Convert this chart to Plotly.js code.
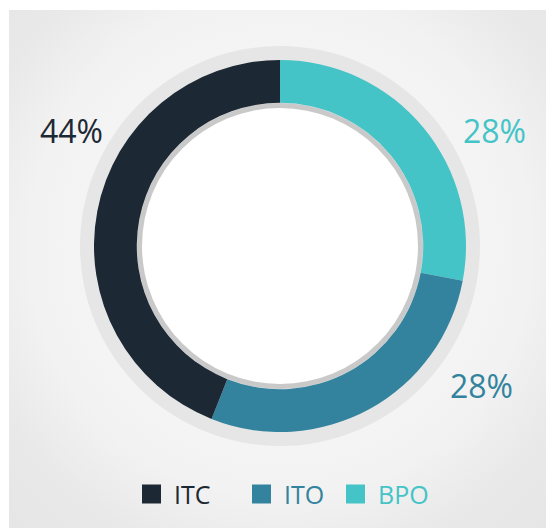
<!DOCTYPE html>
<html>
<head>
<meta charset="utf-8">
<script src="https://cdn.plot.ly/plotly-3.0.1.min.js"></script>
<style>
  html, body { margin: 0; padding: 0; background: #ffffff; }
  #wrap { position: relative; width: 546px; height: 528px; overflow: hidden; background: #ffffff; }
  #bg { position: absolute; left: 9px; top: 10px; right: 0; bottom: 0;
        background: radial-gradient(circle at 271px 236px, #f4f4f4 0px, #f4f4f4 205px, #f2f2f2 250px, #e9e9e9 320px, #e5e5e5 400px); }
  .ring { position: absolute; border-radius: 50%; }
  #outerRing { left: 80px; top: 46px; width: 400px; height: 400px;
        background: radial-gradient(circle, #e6e6e6 0%, #e6e6e6 95%, #dedede 99%, #d6d6d6 100%); }
  #innerRing { left: 137px; top: 103px; width: 286px; height: 286px; background: #c9c9c9; }
  #innerDisk { left: 142px; top: 108px; width: 276px; height: 276px;
        background: radial-gradient(circle, #ffffff 0%, #ffffff 74%, #f4f4f4 88%, #e2e2e2 97%, #d9d9d9 100%); }
  #chart { position: absolute; left: 0; top: 0; width: 546px; height: 528px; }
</style>
</head>
<body>
<div id="wrap">
  <div id="bg"></div>
  <div id="outerRing" class="ring"></div>
  <div id="innerRing" class="ring"></div>
  <div id="innerDisk" class="ring"></div>
  <div id="chart"></div>
</div>
<script>
// Data (slice order clockwise from 12 o'clock)
const categories = ["BPO", "ITO", "ITC"];
const values = [28, 28, 44];
const colors = ["#44c4c7", "#33839e", "#1c2833"];
// Legend order
const legendOrder = ["ITC", "ITO", "BPO"];

// Layout helpers (pixel geometry of the 546x528 canvas)
const W = 546, H = 528;
const cx = 280, cy = 246, R = 186;
const px = x => x / W;
const py = y => 1 - y / H;

// Percent label anchor positions (pixels), per category
const labelPos = { BPO: [494, 131], ITO: [481, 385], ITC: [71, 131] };
// Legend item positions (pixels): square left x, row center y
const legendX = { ITC: 142, ITO: 252, BPO: 346 };
const legendY = 494;
const sq = 19;

const font = "'Open Sans', Roboto, sans-serif";

const trace = {
  type: "pie",
  labels: categories,
  values: values,
  marker: { colors: colors, line: { width: 0 } },
  hole: 0.77,
  sort: false,
  direction: "clockwise",
  rotation: 0,
  textinfo: "none",
  hoverinfo: "label+percent",
  showlegend: false,
  domain: { x: [px(cx - R), px(cx + R)], y: [py(cy + R), py(cy - R)] }
};

const annotations = [];
const shapes = [];
categories.forEach((c, i) => {
  const [lx, ly] = labelPos[c];
  annotations.push({
    xref: "paper", yref: "paper", x: px(lx), y: py(ly),
    xanchor: "center", yanchor: "middle", showarrow: false,
    text: values[i] + "%",
    font: { family: font, size: 32, weight: 400, color: colors[i] }
  });
});
legendOrder.forEach(c => {
  const i = categories.indexOf(c);
  const x0 = legendX[c];
  shapes.push({
    type: "rect", xref: "paper", yref: "paper",
    x0: px(x0), x1: px(x0 + sq), y0: py(legendY + sq / 2), y1: py(legendY - sq / 2),
    fillcolor: colors[i], line: { width: 0 }
  });
  annotations.push({
    xref: "paper", yref: "paper", x: px(x0 + sq + 11), y: py(legendY),
    xanchor: "left", yanchor: "middle", showarrow: false,
    text: c, font: { family: font, size: 25, weight: 400, color: colors[i] }
  });
});

const layout = {
  width: W, height: H,
  margin: { l: 0, r: 0, t: 0, b: 0 },
  paper_bgcolor: "rgba(0,0,0,0)",
  plot_bgcolor: "rgba(0,0,0,0)",
  showlegend: false,
  annotations: annotations,
  shapes: shapes
};

Plotly.newPlot("chart", [trace], layout, { displayModeBar: false, staticPlot: true });
</script>
</body>
</html>
